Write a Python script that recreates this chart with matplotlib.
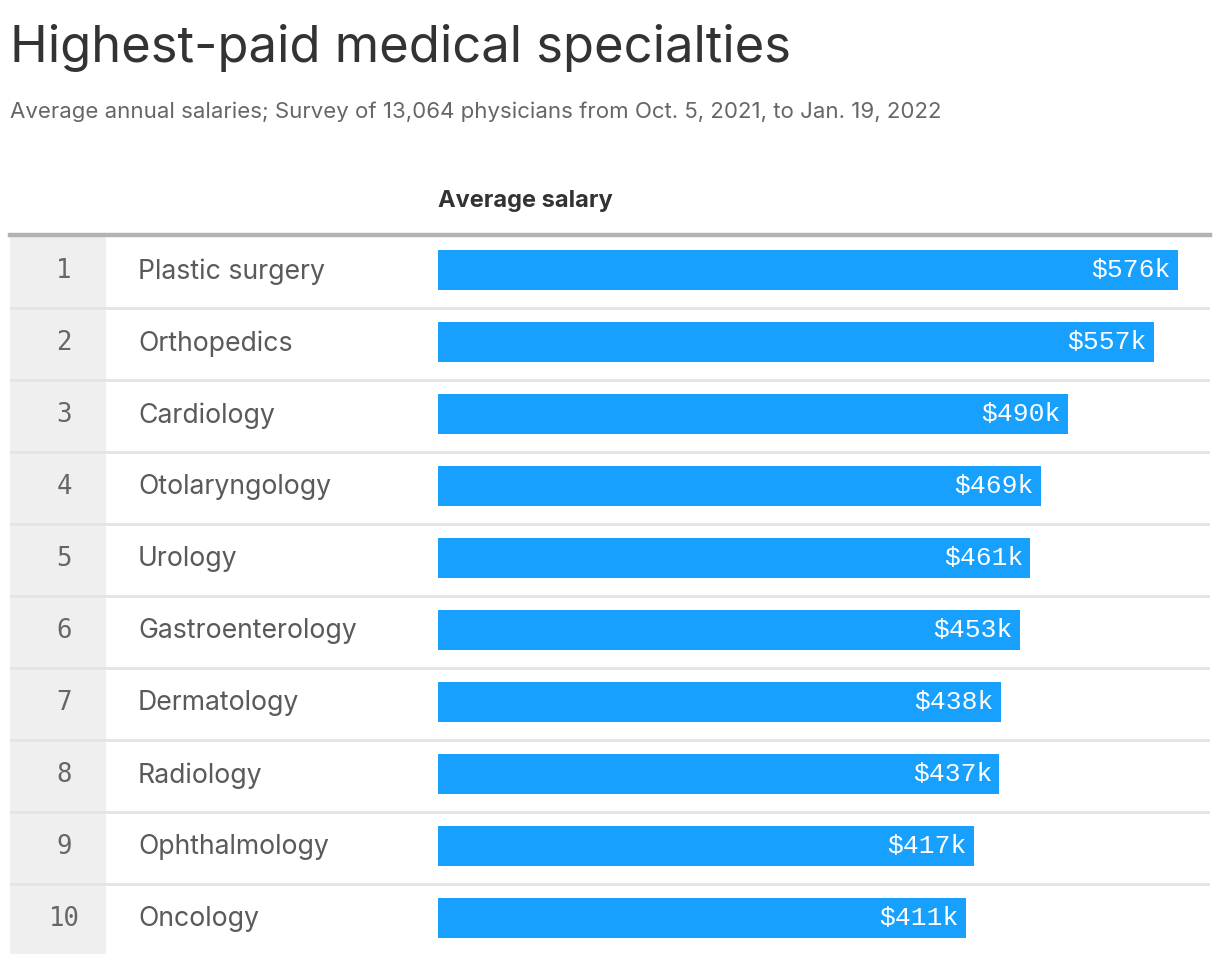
import matplotlib.pyplot as plt
from matplotlib.patches import Rectangle

# data
ranks = [1, 2, 3, 4, 5, 6, 7, 8, 9, 10]
specialties = ["Plastic surgery", "Orthopedics", "Cardiology", "Otolaryngology",
               "Urology", "Gastroenterology", "Dermatology", "Radiology",
               "Ophthalmology", "Oncology"]
salaries = [576, 557, 490, 469, 461, 453, 438, 437, 417, 411]  # thousands of $

W, H = 1220, 964
BLUE = "#17a0fe"

fig = plt.figure(figsize=(W / 100, H / 100), dpi=100)
fig.patch.set_facecolor("white")

def fy(y):
    return 1 - y / H

def fx(x):
    return x / W

fig.text(fx(10), fy(62), "Highest-paid medical specialties", fontsize=36.5,
         family=["Inter", "DejaVu Sans"], color="#333333", va="baseline")
fig.text(fx(10), fy(118), "Average annual salaries; Survey of 13,064 physicians from Oct. 5, 2021, to Jan. 19, 2022",
         fontsize=16, family=["Inter", "DejaVu Sans"], color="#666666", va="baseline")
fig.text(fx(438), fy(207), "Average salary", fontsize=17, fontweight="bold",
         family=["Inter", "DejaVu Sans"], color="#333333", va="baseline")

# table background axes (full width)
top, bottom = 236, 956
n = len(ranks)
tab = fig.add_axes([fx(10), fy(bottom), fx(1210) - fx(10), (bottom - top) / H])
tab.set_xlim(10, 1210)
tab.set_ylim(n, 0)
tab.axis("off")
tab.add_patch(Rectangle((10, 0), 96, n - 0.03, color="#efefef", lw=0, zorder=0))
for i in range(1, n):
    tab.axhline(i, color="#e4e4e4", lw=2, zorder=1)
tab.axhline(-0.02, color="#b3b3b3", lw=3.2, zorder=2, clip_on=False)
for i, (r, s) in enumerate(zip(ranks, specialties)):
    tab.text(64, i + 0.48, str(r), ha="center", va="center", fontsize=18.5,
             family="DejaVu Sans Mono", color="#666666")
    tab.text(138, i + 0.49, s, ha="left", va="center", fontsize=19.2,
             family=["Inter", "DejaVu Sans"], color="#5a5a5a")

# bar axes
ax = fig.add_axes([fx(438), fy(bottom), fx(1210) - fx(438), (bottom - top) / H])
ax.patch.set_alpha(0)
ax.set_xlim(0, 772 / (740 / 576))
ax.set_ylim(n, 0)
ax.axis("off")
ypos = [i + 0.47 for i in range(n)]
ax.barh(ypos, salaries, height=0.56, left=0, color=BLUE, zorder=3)
for y, v in zip(ypos, salaries):
    ax.annotate(f"${v}k", (v, y), xytext=(-7, 0), textcoords="offset pixels",
                ha="right", va="center", fontsize=19, family="Liberation Mono",
                color="white", zorder=4)

fig.savefig("out.png", dpi=100)
